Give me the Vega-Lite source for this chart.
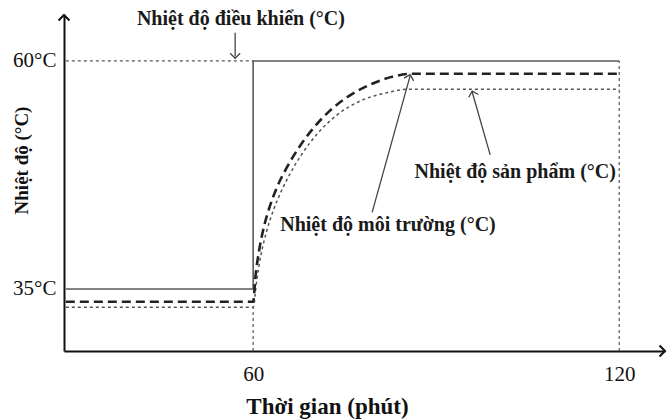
{
  "$schema": "https://vega.github.io/schema/vega-lite/v6.json",
  "width": 601,
  "height": 336,
  "autosize": "none",
  "padding": {"left": 64, "top": 15, "right": 4, "bottom": 69},
  "background": "white",
  "config": {"view": {"stroke": null}, "font": "Liberation Serif, Times New Roman, serif"},
  "datasets": {
    "control": [
      {"t": 29.3, "v": 35, "o": 1},
      {"t": 60, "v": 35, "o": 2},
      {"t": 60, "v": 60, "o": 3},
      {"t": 120, "v": 60, "o": 4}
    ],
    "env": [
      {"t": 29.3, "v": 33.6},
      {"t": 60, "v": 33.6},
      {"t": 60.4, "v": 36.5},
      {"t": 61.0, "v": 39.3},
      {"t": 61.8, "v": 41.9},
      {"t": 62.8, "v": 44.2},
      {"t": 64.0, "v": 46.3},
      {"t": 65.5, "v": 48.3},
      {"t": 67.4, "v": 50.4},
      {"t": 69.7, "v": 52.5},
      {"t": 72.5, "v": 54.5},
      {"t": 75.8, "v": 56.2},
      {"t": 79.5, "v": 57.5},
      {"t": 83.0, "v": 58.3},
      {"t": 86.0, "v": 58.6},
      {"t": 120, "v": 58.6}
    ],
    "product": [
      {"t": 29.3, "v": 33.0},
      {"t": 60, "v": 33.0},
      {"t": 60.6, "v": 36.0},
      {"t": 61.3, "v": 38.8},
      {"t": 62.2, "v": 41.3},
      {"t": 63.3, "v": 43.6},
      {"t": 64.6, "v": 45.7},
      {"t": 66.1, "v": 47.7},
      {"t": 68.0, "v": 49.8},
      {"t": 70.5, "v": 52.0},
      {"t": 73.6, "v": 54.0},
      {"t": 77.5, "v": 55.6},
      {"t": 81.8, "v": 56.5},
      {"t": 85.5, "v": 56.9},
      {"t": 120, "v": 56.9}
    ],
    "guides": [
      {"t": 29.3, "v": 60, "t2": 60, "v2": 60},
      {"t": 60, "v": 28.2, "t2": 60, "v2": 33.0},
      {"t": 120, "v": 28.2, "t2": 120, "v2": 60}
    ],
    "arrowLines": [
      {"t": 57.05, "v": 63.1, "t2": 57.05, "v2": 60.5},
      {"t": 98.85, "v": 49.7, "t2": 95.9, "v2": 56.6},
      {"t": 79.5, "v": 43.4, "t2": 85.74, "v2": 58.4}
    ],
    "labels": [
      {"t": 58.0, "v": 64.6, "label": "Nhiệt độ điều khiển (°C)"},
      {"t": 102.95, "v": 47.8, "label": "Nhiệt độ sản phẩm (°C)"},
      {"t": 82.1, "v": 42.0, "label": "Nhiệt độ môi trường (°C)"}
    ]
  },
  "encoding": {
    "x": {
      "field": "t",
      "type": "quantitative",
      "scale": {"domain": [29, 127.5], "nice": false, "zero": false},
      "axis": {
        "values": [60, 120],
        "title": "Thời gian (phút)",
        "titleFont": "Liberation Serif, Times New Roman, serif",
        "titleFontSize": 23,
        "titleFontWeight": "bold",
        "titleColor": "#111",
        "titleX": 263,
        "titleY": 44,
        "titleBaseline": "top",
        "titleAnchor": "middle",
        "titleAlign": "center",
        "labelFont": "Liberation Serif, Times New Roman, serif",
        "labelFontSize": 21,
        "labelColor": "#111",
        "labelPadding": 12,
        "ticks": false,
        "grid": false,
        "domainColor": "#111",
        "domainWidth": 2
      }
    },
    "y": {
      "field": "v",
      "type": "quantitative",
      "scale": {"domain": [28.2, 65.04], "nice": false, "zero": false},
      "axis": {
        "values": [35, 60],
        "labelExpr": "datum.value + '°C'",
        "title": "Nhiệt độ (°C)",
        "titleFont": "Liberation Serif, Times New Roman, serif",
        "titleFontSize": 19,
        "titleFontWeight": "bold",
        "titleColor": "#111",
        "titleAngle": 270,
        "titleX": -43,
        "titleY": 145,
        "titleBaseline": "middle",
        "titleAlign": "center",
        "labelFont": "Liberation Serif, Times New Roman, serif",
        "labelFontSize": 21,
        "labelColor": "#111",
        "labelPadding": 8,
        "ticks": false,
        "grid": false,
        "domainColor": "#111",
        "domainWidth": 2
      }
    }
  },
  "layer": [
    {
      "data": {"name": "guides"},
      "mark": {"type": "rule", "color": "#555", "strokeWidth": 1.2, "strokeDash": [3, 3]},
      "encoding": {"x2": {"field": "t2"}, "y2": {"field": "v2"}}
    },
    {
      "data": {"name": "control"},
      "mark": {"type": "line", "color": "#5a5a5a", "strokeWidth": 1.6},
      "encoding": {"order": {"field": "o", "type": "quantitative"}}
    },
    {
      "data": {"name": "product"},
      "mark": {"type": "line", "color": "#555", "strokeWidth": 1.5, "strokeDash": [3, 3], "interpolate": "monotone"},
      "encoding": {}
    },
    {
      "data": {"name": "env"},
      "mark": {"type": "line", "color": "#222", "strokeWidth": 2.6, "strokeDash": [9, 5], "interpolate": "monotone"},
      "encoding": {}
    },
    {
      "data": {"name": "arrowLines"},
      "mark": {"type": "rule", "color": "#444", "strokeWidth": 1.3},
      "encoding": {"x2": {"field": "t2"}, "y2": {"field": "v2"}}
    },
    {
      "data": {"values": [{"t": 57.05, "v": 60.3}]},
      "mark": {"type": "point", "shape": "M-1,1L0,0L1,1", "filled": false, "size": 100, "strokeWidth": 1.3, "color": "#444", "opacity": 1, "angle": 180},
      "encoding": {}
    },
    {
      "data": {"values": [{"t": 95.9, "v": 56.7}]},
      "mark": {"type": "point", "shape": "M-1,1L0,0L1,1", "filled": false, "size": 100, "strokeWidth": 1.3, "color": "#444", "opacity": 1, "angle": -16},
      "encoding": {}
    },
    {
      "data": {"values": [{"t": 85.74, "v": 58.5}]},
      "mark": {"type": "point", "shape": "M-1,1L0,0L1,1", "filled": false, "size": 100, "strokeWidth": 1.3, "color": "#444", "opacity": 1, "angle": 16},
      "encoding": {}
    },
    {
      "data": {"values": [{"t": 29, "v": 65.04}]},
      "mark": {"type": "point", "shape": "M-1,1L0,0L1,1", "filled": false, "size": 120, "strokeWidth": 2, "color": "#111", "opacity": 1, "angle": 0},
      "encoding": {}
    },
    {
      "data": {"values": [{"t": 127.5, "v": 28.2}]},
      "mark": {"type": "point", "shape": "M-1,1L0,0L1,1", "filled": false, "size": 120, "strokeWidth": 2, "color": "#111", "opacity": 1, "angle": 90},
      "encoding": {}
    },
    {
      "data": {"name": "labels"},
      "mark": {"type": "text", "font": "Liberation Serif, Times New Roman, serif", "fontSize": 20, "fontWeight": "bold", "color": "#1a1a1a", "align": "center", "baseline": "middle"},
      "encoding": {"text": {"field": "label"}}
    }
  ]
}
